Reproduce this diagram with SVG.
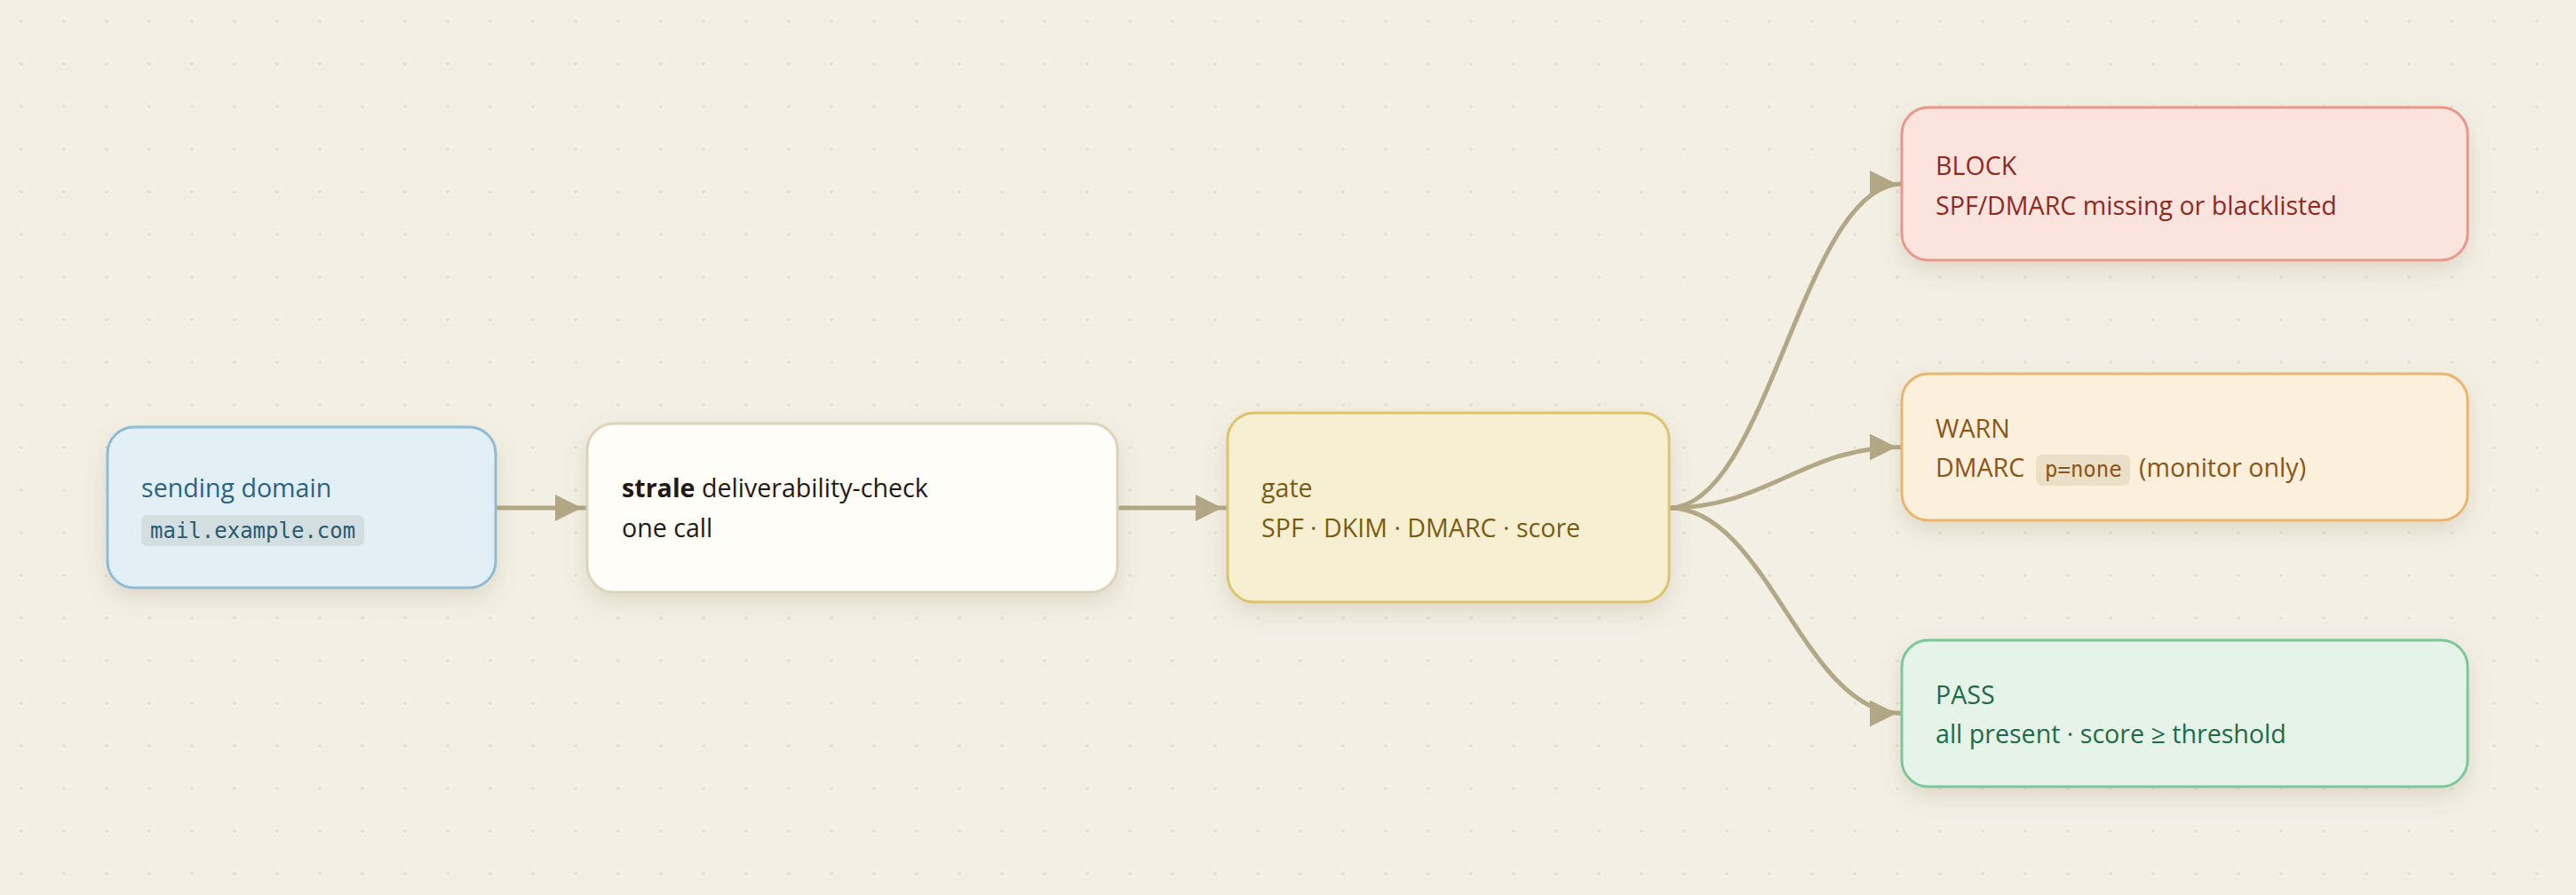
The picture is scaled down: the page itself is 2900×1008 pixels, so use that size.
<svg xmlns="http://www.w3.org/2000/svg" width="2900" height="1008" viewBox="0 0 2900 1008">
<style>
.t{font-family:"Open Sans","Noto Sans","DejaVu Sans",sans-serif;font-size:28.6px}
.b{font-weight:700}
.m{font-family:"DejaVu Sans Mono","Liberation Mono",monospace;font-size:24px}
.box{stroke-width:3}
.edge{fill:none;stroke:#b2a886;stroke-width:5}
</style>
<defs>
<pattern id="dots" x="0" y="0" width="48" height="48" patternUnits="userSpaceOnUse">
<circle cx="24" cy="24" r="1.6" fill="#e1dbcc"/>
</pattern>
<filter id="sh" x="-20%" y="-30%" width="140%" height="170%">
<feDropShadow dx="0" dy="10" stdDeviation="12" flood-color="#7a6a40" flood-opacity="0.17"/>
</filter>
<marker id="arr" markerUnits="userSpaceOnUse" markerWidth="40" markerHeight="32" refX="36" refY="15" orient="auto">
<path d="M0,0 L30,15 L0,30 z" fill="#b2a886"/>
</marker>
</defs>
<rect width="2900" height="1008" fill="#f3efe5"/>
<rect width="2900" height="1008" fill="url(#dots)"/>

<g id="connectors">
<path class="edge" d="M558,572 L661,572" marker-end="url(#arr)"/>
<path class="edge" d="M1258,572 L1382,572" marker-end="url(#arr)"/>
<path class="edge" d="M1879,572 C1990,572 2030,207 2141,207" marker-end="url(#arr)"/>
<path class="edge" d="M1879,572 C1990,572 2030,503.5 2141,503.5" marker-end="url(#arr)"/>
<path class="edge" d="M1879,572 C1990,572 2030,803.5 2141,803.5" marker-end="url(#arr)"/>
</g>

<g id="node-domain">
<rect class="box" x="121" y="481" width="437" height="181" rx="30" fill="#e2eff5" stroke="#8fbcd4" filter="url(#sh)"/>
<text class="t" x="159" y="560" fill="#2b6483">sending domain</text>
<rect x="159" y="580" width="251" height="35" rx="7" fill="#d3dee1"/>
<text class="m" x="169" y="606" fill="#2a5a6e">mail.example.com</text>
</g>

<g id="node-strale">
<rect class="box" x="661" y="477" width="597" height="190" rx="30" fill="#fffdf7" stroke="#ddd3bd" filter="url(#sh)"/>
<text class="t" x="700" y="560" fill="#1f1a17"><tspan class="b">strale</tspan> deliverability-check</text>
<text class="t" x="700" y="605" fill="#1f1a17">one call</text>
</g>

<g id="node-gate">
<rect class="box" x="1382" y="465" width="497" height="213" rx="30" fill="#f7efd2" stroke="#dcc46c" filter="url(#sh)"/>
<text class="t" x="1420" y="560" fill="#7a5c12">gate</text>
<text class="t" x="1420" y="605" fill="#7a5c12">SPF · DKIM · DMARC · score</text>
</g>

<g id="node-block">
<rect class="box" x="2141" y="121" width="637" height="172" rx="30" fill="#fbe4de" stroke="#e6998b" filter="url(#sh)"/>
<text class="t" x="2179" y="196.5" fill="#8e2a1e">BLOCK</text>
<text class="t" x="2179" y="241.5" fill="#8e2a1e">SPF/DMARC missing or blacklisted</text>
</g>

<g id="node-warn">
<rect class="box" x="2141" y="421" width="637" height="165" rx="30" fill="#fcefdb" stroke="#e9b56e" filter="url(#sh)"/>
<text class="t" x="2179" y="492.5" fill="#8a5516">WARN</text>
<text class="t" x="2179" y="537" fill="#8a5516">DMARC</text>
<rect x="2292" y="512" width="106" height="35" rx="7" fill="#ecdfc8"/>
<text class="m" x="2302" y="537" fill="#8a5516">p=none</text>
<text class="t" x="2408" y="537" fill="#8a5516">(monitor only)</text>
</g>

<g id="node-pass">
<rect class="box" x="2141" y="721" width="637" height="165" rx="30" fill="#e5f3e8" stroke="#7ec79b" filter="url(#sh)"/>
<text class="t" x="2179" y="792.5" fill="#1f6b47">PASS</text>
<text class="t" x="2179" y="837" fill="#1f6b47">all present · score ≥ threshold</text>
</g>
</svg>
